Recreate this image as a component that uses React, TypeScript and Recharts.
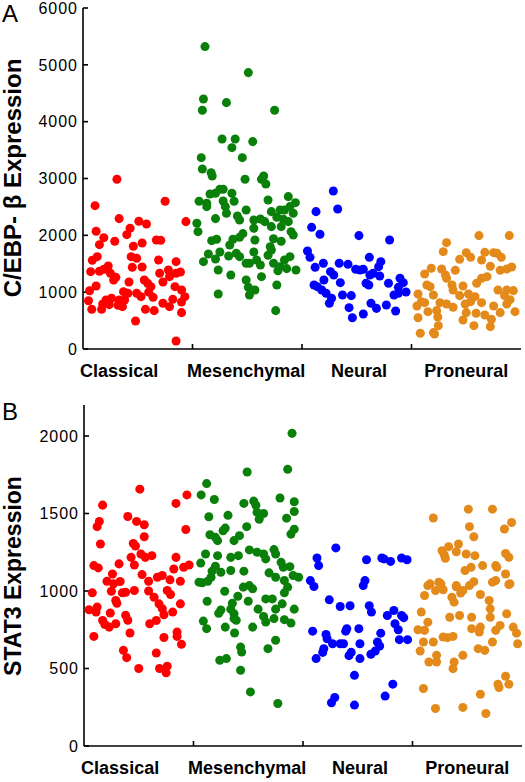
import React from "react";
import { ScatterChart, Scatter, XAxis, YAxis } from "recharts";

const FONT = '"Liberation Sans", Arial, sans-serif';

// categories and where their names sit on the x scale (one unit per group)
const categories = ["Classical", "Mesenchymal", "Neural", "Proneural"];
const labelPositions = [0.33, 1.49, 2.52, 3.5];
const boundaries = [1, 2, 3];
const colors = ["#ff0000", "#0a800a", "#0000ff", "#e38a1a"];

const cebpTicks = [0, 1000, 2000, 3000, 4000, 5000, 6000];
const stat3Ticks = [0, 500, 1000, 1500, 2000];

// Panel A: C/EBP-beta, jitter (0..1 inside the group) and value
const aClassicalJ = [0.31, 0.11, 0.75, 0.94, 0.33, 0.51, 0.58, 0.12, 0.43, 0.4, 0.19, 0.29, 0.15, 0.54, 0.67, 0.71, 0.46, 0.13, 0.085, 0.44, 0.49, 0.69, 0.85, 0.23, 0.19, 0.45, 0.54, 0.07, 0.15, 0.25, 0.78, 0.89, 0.85, 0.7, 0.3, 0.28, 0.42, 0.56, 0.59, 0.73, 0.79, 0.12, 0.06, 0.62, 0.84, 0.37, 0.41, 0.49, 0.53, 0.64, 0.9, 0.93, 0.05, 0.21, 0.26, 0.33, 0.38, 0.18, 0.32, 0.73, 0.82, 0.9, 0.08, 0.17, 0.57, 0.65, 0.79, 0.36, 0.9, 0.48, 0.85, 0.35, 0.6, 0.24];
const aClassicalV = [2987, 2522, 2599, 2241, 2294, 2247, 2200, 2071, 2124, 2012, 1959, 1895, 1836, 1866, 1918, 1912, 1807, 1625, 1561, 1625, 1596, 1566, 1537, 1461, 1402, 1437, 1443, 1361, 1367, 1332, 1390, 1355, 1332, 1332, 1261, 1214, 1179, 1214, 1156, 1179, 1273, 1109, 1026, 1097, 1097, 1009, 980, 980, 921, 910, 1038, 921, 850, 862, 892, 862, 862, 792, 769, 804, 874, 827, 698, 698, 698, 675, 745, 745, 640, 493, 141, 830, 1000, 780];

const aMesJ = [0.114, 0.51, 0.1, 0.31, 0.09, 0.75, 0.27, 0.39, 0.55, 0.36, 0.08, 0.455, 0.09, 0.17, 0.18, 0.48, 0.63, 0.65, 0.67, 0.25, 0.28, 0.16, 0.21, 0.36, 0.875, 0.06, 0.13, 0.28, 0.38, 0.69, 0.94, 0.13, 0.3, 0.49, 0.89, 0.72, 0.8, 0.84, 0.92, 0.31, 0.41, 0.21, 0.43, 0.56, 0.62, 0.66, 0.77, 0.83, 0.875, 0.04, 0.05, 0.56, 0.81, 0.72, 0.9, 0.92, 0.46, 0.43, 0.37, 0.175, 0.22, 0.57, 0.74, 0.81, 0.34, 0.71, 0.72, 0.145, 0.25, 0.4, 0.56, 0.89, 0.33, 0.43, 0.69, 0.84, 0.21, 0.1, 0.585, 0.49, 0.52, 0.62, 0.74, 0.8, 0.945, 0.86, 0.235, 0.78, 0.35, 0.63, 0.49, 0.51, 0.57, 0.52, 0.77, 0.235, 0.76];
const aMesV = [5321, 4863, 4400, 4335, 4201, 4201, 3696, 3696, 3649, 3543, 3367, 3367, 3168, 3103, 3045, 2986, 2986, 3045, 2904, 2810, 2810, 2728, 2740, 2740, 2681, 2599, 2564, 2605, 2599, 2622, 2575, 2505, 2505, 2446, 2505, 2417, 2446, 2446, 2388, 2388, 2341, 2294, 2270, 2270, 2288, 2241, 2318, 2282, 2241, 2212, 2065, 2124, 2153, 2153, 2065, 2006, 2030, 1965, 1930, 1906, 1930, 1918, 1941, 1895, 1830, 1801, 1742, 1672, 1707, 1684, 1707, 1625, 1637, 1625, 1649, 1566, 1584, 1537, 1567, 1508, 1508, 1478, 1508, 1449, 1390, 1414, 1390, 1378, 1302, 1273, 1214, 1086, 1038, 950, 1126, 968, 675];

const aNeuralJ = [0.286, 0.128, 0.326, 0.088, 0.164, 0.52, 0.8, 0.05, 0.073, 0.615, 0.195, 0.34, 0.42, 0.72, 0.7, 0.12, 0.49, 0.53, 0.56, 0.26, 0.29, 0.62, 0.65, 0.71, 0.895, 0.2, 0.35, 0.585, 0.61, 0.79, 0.925, 0.11, 0.14, 0.88, 0.95, 0.18, 0.22, 0.37, 0.45, 0.84, 0.88, 0.27, 0.25, 0.63, 0.77, 0.43, 0.68, 0.855, 0.56, 0.46];
const aNeuralV = [2781, 2417, 2464, 2141, 2018, 1995, 1918, 1725, 1613, 1613, 1508, 1508, 1490, 1537, 1449, 1437, 1402, 1390, 1402, 1361, 1302, 1302, 1332, 1284, 1244, 1214, 1167, 1156, 1126, 1156, 1167, 1126, 1097, 1085, 1003, 1038, 980, 950, 939, 950, 980, 892, 804, 804, 774, 727, 715, 669, 616, 551];

const aProJ = [0.616, 0.893, 0.32, 0.29, 0.5, 0.54, 0.67, 0.75, 0.78, 0.44, 0.64, 0.82, 0.18, 0.275, 0.72, 0.915, 0.87, 0.81, 0.12, 0.4, 0.32, 0.64, 0.69, 0.31, 0.14, 0.17, 0.37, 0.47, 0.595, 0.38, 0.79, 0.87, 0.93, 0.06, 0.2, 0.44, 0.52, 0.58, 0.85, 0.09, 0.26, 0.32, 0.38, 0.49, 0.54, 0.64, 0.75, 0.87, 0.945, 0.05, 0.15, 0.23, 0.5, 0.59, 0.67, 0.81, 0.06, 0.24, 0.47, 0.73, 0.72, 0.57, 0.245, 0.08, 0.2, 0.21, 0.12, 0.9];
const aProV = [1995, 1995, 1871, 1713, 1695, 1613, 1701, 1695, 1684, 1578, 1566, 1613, 1420, 1408, 1455, 1443, 1408, 1384, 1320, 1384, 1244, 1244, 1273, 1302, 1126, 1097, 1126, 1109, 1156, 1038, 1038, 1038, 1027, 968, 950, 939, 968, 921, 939, 833, 815, 792, 733, 792, 833, 815, 757, 792, 657, 757, 657, 675, 640, 628, 598, 640, 551, 563, 510, 522, 393, 411, 411, 276, 288, 264, 815, 868];

// Panel B: STAT3
const bClassicalJ = [0.51, 0.94, 0.84, 0.17, 0.4, 0.48, 0.55, 0.14, 0.12, 0.93, 0.55, 0.15, 0.45, 0.47, 0.43, 0.52, 0.56, 0.62, 0.84, 0.09, 0.13, 0.46, 0.32, 0.82, 0.91, 0.96, 0.26, 0.53, 0.67, 0.715, 0.785, 0.21, 0.27, 0.33, 0.59, 0.88, 0.076, 0.25, 0.35, 0.38, 0.46, 0.59, 0.76, 0.79, 0.64, 0.29, 0.3, 0.88, 0.685, 0.046, 0.11, 0.12, 0.24, 0.38, 0.4, 0.715, 0.81, 0.73, 0.17, 0.19, 0.23, 0.29, 0.6, 0.66, 0.09, 0.42, 0.85, 0.85, 0.89, 0.73, 0.36, 0.39, 0.66, 0.5, 0.69, 0.76, 0.75];
const bClassicalV = [1657, 1620, 1565, 1554, 1481, 1449, 1427, 1449, 1415, 1397, 1350, 1303, 1307, 1290, 1217, 1239, 1217, 1228, 1217, 1164, 1149, 1168, 1175, 1142, 1153, 1168, 1110, 1106, 1089, 1100, 1072, 1063, 1046, 1061, 1063, 1063, 988, 998, 988, 992, 1003, 1000, 1003, 977, 960, 939, 921, 917, 917, 879, 864, 896, 858, 843, 811, 886, 864, 847, 810, 784, 767, 789, 789, 810, 707, 729, 735, 707, 656, 700, 617, 570, 600, 500, 500, 515, 472];

const bMesJ = [0.9, 0.86, 0.49, 0.12, 0.07, 0.19, 0.79, 0.55, 0.46, 0.92, 0.57, 0.58, 0.64, 0.14, 0.315, 0.85, 0.92, 0.6, 0.486, 0.29, 0.92, 0.27, 0.89, 0.15, 0.2, 0.42, 0.37, 0.22, 0.51, 0.58, 0.64, 0.66, 0.735, 0.75, 0.11, 0.22, 0.34, 0.41, 0.8, 0.82, 0.88, 0.066, 0.2, 0.17, 0.25, 0.34, 0.46, 0.69, 0.75, 0.91, 0.96, 0.16, 0.13, 0.05, 0.08, 0.83, 0.51, 0.455, 0.54, 0.86, 0.83, 0.285, 0.405, 0.125, 0.355, 0.5, 0.66, 0.72, 0.81, 0.34, 0.25, 0.23, 0.59, 0.75, 0.92, 0.37, 0.64, 0.37, 0.39, 0.66, 0.735, 0.83, 0.89, 0.09, 0.12, 0.29, 0.54, 0.375, 0.75, 0.43, 0.44, 0.68, 0.24, 0.3, 0.43, 0.52, 0.77];
const bMesV = [2017, 1785, 1768, 1693, 1620, 1590, 1600, 1580, 1565, 1576, 1553, 1507, 1500, 1479, 1488, 1470, 1513, 1463, 1415, 1406, 1399, 1389, 1367, 1363, 1346, 1357, 1325, 1325, 1265, 1250, 1239, 1207, 1267, 1239, 1239, 1228, 1217, 1228, 1185, 1153, 1157, 1180, 1160, 1128, 1121, 1132, 1128, 1117, 1089, 1100, 1089, 1089, 1063, 1057, 1053, 1068, 1035, 1025, 1014, 1025, 988, 998, 966, 934, 921, 934, 949, 949, 917, 883, 877, 856, 883, 883, 883, 853, 836, 822, 811, 800, 822, 815, 793, 806, 757, 767, 767, 729, 682, 638, 606, 628, 553, 564, 489, 349, 274];

const bNeuralJ = [0.3, 0.128, 0.143, 0.58, 0.72, 0.74, 0.8, 0.9, 0.95, 0.067, 0.1, 0.566, 0.55, 0.24, 0.34, 0.43, 0.605, 0.625, 0.77, 0.83, 0.9, 0.92, 0.84, 0.87, 0.88, 0.955, 0.088, 0.21, 0.22, 0.27, 0.34, 0.37, 0.4, 0.39, 0.51, 0.52, 0.71, 0.68, 0.66, 0.62, 0.52, 0.44, 0.42, 0.19, 0.18, 0.12, 0.7, 0.47, 0.82, 0.75, 0.29, 0.26, 0.47];
const bNeuralV = [1278, 1213, 1164, 1202, 1213, 1207, 1191, 1213, 1202, 1067, 1029, 1067, 1035, 943, 900, 905, 905, 864, 842, 874, 842, 828, 789, 750, 686, 686, 741, 720, 692, 660, 660, 660, 757, 741, 757, 660, 728, 671, 613, 592, 564, 604, 583, 628, 604, 564, 645, 456, 399, 322, 313, 279, 264];

const bProJ = [0.51, 0.73, 0.19, 0.905, 0.52, 0.84, 0.56, 0.42, 0.33, 0.27, 0.29, 0.3, 0.4, 0.49, 0.57, 0.64, 0.76, 0.77, 0.85, 0.88, 0.535, 0.48, 0.85, 0.76, 0.89, 0.16, 0.24, 0.4, 0.56, 0.14, 0.26, 0.4, 0.46, 0.52, 0.73, 0.88, 0.11, 0.21, 0.28, 0.36, 0.38, 0.44, 0.62, 0.7, 0.71, 0.71, 0.8, 0.86, 0.92, 0.95, 0.08, 0.14, 0.34, 0.43, 0.54, 0.54, 0.62, 0.05, 0.11, 0.1, 0.19, 0.28, 0.32, 0.37, 0.61, 0.76, 0.73, 0.66, 0.6, 0.07, 0.15, 0.22, 0.22, 0.38, 0.37, 0.46, 0.96, 0.1, 0.85, 0.78, 0.79, 0.88, 0.62, 0.21, 0.46, 0.67];
const bProV = [1528, 1528, 1471, 1442, 1415, 1400, 1350, 1303, 1286, 1260, 1233, 1211, 1253, 1239, 1228, 1164, 1164, 1153, 1242, 1217, 1153, 1132, 1110, 1067, 1046, 1046, 1057, 1035, 1060, 1035, 1046, 1027, 1003, 1035, 1057, 1042, 971, 1003, 1008, 960, 928, 987, 977, 939, 885, 831, 778, 853, 767, 728, 864, 799, 831, 842, 831, 757, 767, 750, 746, 671, 671, 703, 699, 707, 735, 746, 671, 617, 628, 613, 542, 585, 542, 542, 499, 585, 660, 371, 450, 399, 377, 399, 334, 242, 249, 210];

const toPoints = (group: number, js: number[], vs: number[]) =>
  js.map((j, i) => ({ x: group + j, y: vs[i] }));

const panelA = [
  toPoints(0, aClassicalJ, aClassicalV),
  toPoints(1, aMesJ, aMesV),
  toPoints(2, aNeuralJ, aNeuralV),
  toPoints(3, aProJ, aProV),
];
const panelB = [
  toPoints(0, bClassicalJ, bClassicalV),
  toPoints(1, bMesJ, bMesV),
  toPoints(2, bNeuralJ, bNeuralV),
  toPoints(3, bProJ, bProV),
];

const axisStroke = { stroke: "#000", strokeWidth: 1.6 };

// bottom axis: short inward marks on group boundaries, names under each group
const BottomTick = (props: any) => {
  const { x, y, payload } = props;
  const idx = labelPositions.indexOf(payload.value);
  if (idx >= 0) {
    return (
      <text
        x={x}
        y={y + 15}
        dy="0.71em"
        textAnchor="middle"
        fontFamily={FONT}
        fontWeight="bold"
        fontSize={18}
        fill="#000"
      >
        {categories[idx]}
      </text>
    );
  }
  return <line x1={x} y1={y} x2={x} y2={y - 5} {...axisStroke} />;
};

const bottomTicks = [...labelPositions, ...boundaries].sort((a, b) => a - b);

function Panel({
  groups,
  yMax,
  yTicks,
  height,
  margin,
  yWidth,
}: {
  groups: { x: number; y: number }[][];
  yMax: number;
  yTicks: number[];
  height: number;
  margin: { top: number; right: number; bottom: number; left: number };
  yWidth: number;
}) {
  return (
    <ScatterChart width={525} height={height} margin={margin}>
      <XAxis
        xAxisId="b"
        dataKey="x"
        type="number"
        domain={[0, 4]}
        allowDataOverflow
        ticks={bottomTicks}
        interval={0}
        tick={<BottomTick />}
        tickLine={false}
        tickSize={0}
        tickMargin={0}
        axisLine={axisStroke}
        height={30}
      />
      <XAxis
        xAxisId="t"
        orientation="top"
        type="number"
        domain={[0, 4]}
        allowDataOverflow
        ticks={boundaries}
        interval={0}
        tick={false}
        tickSize={-5}
        tickLine={axisStroke}
        axisLine={axisStroke}
        height={0}
      />
      <YAxis
        yAxisId="l"
        dataKey="y"
        type="number"
        domain={[0, yMax]}
        allowDataOverflow
        ticks={yTicks}
        interval={0}
        width={yWidth}
        tickSize={-5}
        tickMargin={10}
        tickLine={axisStroke}
        axisLine={axisStroke}
        tick={{ fill: "#000", fontSize: 16, fontFamily: FONT, letterSpacing: 1 }}
      />
      <YAxis
        yAxisId="r"
        orientation="right"
        type="number"
        domain={[0, yMax]}
        allowDataOverflow
        ticks={yTicks}
        interval={0}
        width={0}
        tickSize={-5}
        tick={false}
        tickLine={axisStroke}
        axisLine={axisStroke}
      />
      {groups.map((pts, i) => (
        <Scatter
          key={categories[i]}
          xAxisId="b"
          yAxisId="l"
          data={pts}
          fill={colors[i]}
          isAnimationActive={false}
        />
      ))}
    </ScatterChart>
  );
}

const titleStyle: React.CSSProperties = {
  position: "absolute",
  transform: "translate(-50%, -50%) rotate(-90deg)",
  whiteSpace: "nowrap",
  fontFamily: FONT,
  fontWeight: "bold",
  color: "#000",
};

const letterStyle: React.CSSProperties = {
  position: "absolute",
  left: 2,
  fontFamily: FONT,
  fontSize: 24,
  lineHeight: "24px",
  color: "#000",
};

export default function App() {
  return (
    <div
      style={{
        position: "absolute",
        left: 0,
        top: 0,
        width: 525,
        height: 782,
        background: "#fff",
        overflow: "hidden",
      }}
    >
      <div style={{ position: "absolute", left: 0, top: 0 }}>
        <Panel
          groups={panelA}
          yMax={6000}
          yTicks={cebpTicks}
          height={390}
          margin={{ top: 8, right: 4, bottom: 11, left: 0 }}
          yWidth={83}
        />
      </div>
      <div style={{ position: "absolute", left: 0, top: 390 }}>
        <Panel
          groups={panelB}
          yMax={2200}
          yTicks={stat3Ticks}
          height={392}
          margin={{ top: 15, right: 3, bottom: 6, left: 0 }}
          yWidth={84}
        />
      </div>
      <div style={{ ...titleStyle, fontSize: 24, left: 13, top: 178 }}>C/EBP- β Expression</div>
      <div style={{ ...titleStyle, fontSize: 23, left: 13, top: 576 }}>STAT3 Expression</div>
      <div style={{ ...letterStyle, top: 2 }}>A</div>
      <div style={{ ...letterStyle, top: 400 }}>B</div>
    </div>
  );
}
